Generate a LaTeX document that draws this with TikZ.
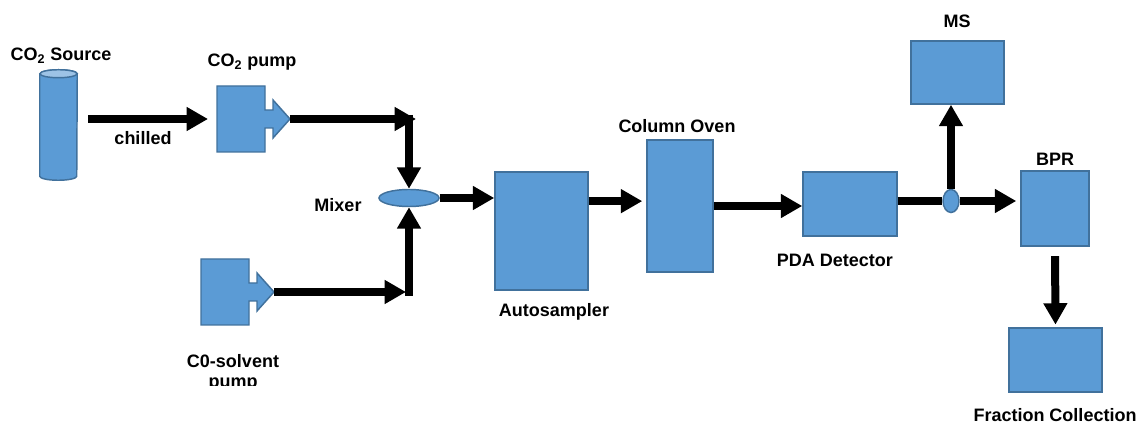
\documentclass[tikz,border=0pt]{standalone}
\usepackage{fontspec}
\setmainfont{Liberation Sans}
\usetikzlibrary{shapes.geometric,arrows.meta,positioning,calc}
\definecolor{unitblue}{RGB}{91,155,213}
\definecolor{unitedge}{RGB}{65,113,156}
\definecolor{unittop}{RGB}{157,195,230}
\tikzset{
  unit/.style={draw=unitedge,fill=unitblue,line width=1.1pt,inner sep=0pt},
  flow/.style={-{Triangle[length=16pt,width=17pt]},line width=6pt},
  pipe/.style={line width=6pt},
  tag/.style={font=\fontsize{13.5}{14.5}\selectfont\bfseries,align=center,inner sep=0pt},
  pics/pumpunit/.style={code={
    \draw[unit] (0,0) -- (48,0) -- (48,24) -- (56,24) -- (56,14) -- (73,33)
      -- (56,52) -- (56,42) -- (48,42) -- (48,66) -- (0,66) -- cycle;
    \coordinate (-in) at (0,33);
    \coordinate (-tip) at (73,33);
  }}
}
\begin{document}
\begin{tikzpicture}[x=0.75pt,y=-0.75pt,
  box/.style={unit,rectangle},
  joint/.style={unit,ellipse}
]
  \useasboundingbox (0,0) rectangle (1140,423);
  % units
  \node[inner sep=0pt,minimum width=27.75pt,minimum height=76.5pt] (source) at (58.5,125) {};
  \draw[unit] (source.north west) -- (source.south west)
    arc[start angle=180,end angle=360,x radius=13.875pt,y radius=3pt]
    -- (source.north east)
    arc[start angle=0,end angle=180,x radius=13.875pt,y radius=3pt];
  \draw[unit,fill=unittop] (source.north) ellipse[x radius=13.875pt,y radius=3pt];
  \pic (co2pump) at (217,86) {pumpunit};
  \pic (solventpump) at (201,259) {pumpunit};
  \node[joint,minimum width=45pt,minimum height=12.75pt] (mixer) at (409,198) {};
  \node[box,minimum width=69.75pt,minimum height=88.5pt] (autosampler) at (541.5,231) {};
  \node[box,minimum width=49.5pt,minimum height=99pt] (oven) at (680,206) {};
  \node[box,minimum width=70.5pt,minimum height=48pt] (pda) at (850,204) {};
  \node[joint,minimum width=12pt,minimum height=17.25pt] (splitter) at (951,201) {};
  \node[box,minimum width=69.75pt,minimum height=47.25pt] (ms) at (957.5,72.5) {};
  \node[box,minimum width=51pt,minimum height=56.25pt] (bpr) at (1055,208.5) {};
  \node[box,minimum width=69.75pt,minimum height=48pt] (fraction) at (1055.5,360) {};
  % labels
  \node[tag] (sourcetag) at (61,56) {CO\textsubscript{2} Source};
  \node[tag] (co2tag) at (252,62) {CO\textsubscript{2} pump};
  \node[tag] (chilledtag) at (143,138) {chilled};
  \node[tag] (mixertag) at (338,205) {Mixer};
  \node[tag] (autotag) at (554,312) {Autosampler};
  \node[tag] (oventag) at (677,126) {Column Oven};
  \node[tag] (pdatag) at (835,260) {PDA Detector};
  \node[tag] (mstag) at (957,21) {MS};
  \node[tag] (bprtag) at (1055,159) {BPR};
  \node[tag] (fractiontag) at (1055,415) {Fraction Collection};
  \begin{scope}
    \clip (150,330) rectangle (320,386);
    \node[tag] (solventtag) at (233,373) {C0-solvent\\pump};
  \end{scope}
  % flow lines
  \coordinate (topjoin) at (mixer |- co2pump-tip);
  \coordinate (lowjoin) at (mixer |- solventpump-tip);
  \coordinate (autoout) at ($(autosampler.north east)!0.25!(autosampler.south east)$);
  \draw[flow,shorten <=8.25pt,shorten >=6.75pt] (source.east |- co2pump-in) -- (co2pump-in);
  \draw[flow] (co2pump-tip) -- ($(topjoin)+(7,0)$);
  \draw[flow] ($(topjoin)+(0,-4)$) -- (mixer.north);
  \draw[flow] (solventpump-tip) -- ($(lowjoin)+(-3,0)$);
  \draw[flow] ($(lowjoin)+(0,4)$) -- (mixer.south);
  \draw[flow] (mixer.east) -- (autosampler.west |- mixer.east);
  \draw[flow,shorten >=3pt] (autoout) -- (oven.west |- autoout);
  \draw[flow] (oven.east) -- (pda.west |- oven.east);
  \draw[pipe] (pda.east |- splitter) -- (splitter.west);
  \draw[flow,shorten >=3pt] (splitter.east) -- (bpr.west |- splitter);
  \draw[flow] (splitter.north) -- (splitter.north |- ms.south);
  \draw[flow,shorten <=7pt,shorten >=2pt] (bpr.south) -- (fraction.north);
\end{tikzpicture}
\end{document}
